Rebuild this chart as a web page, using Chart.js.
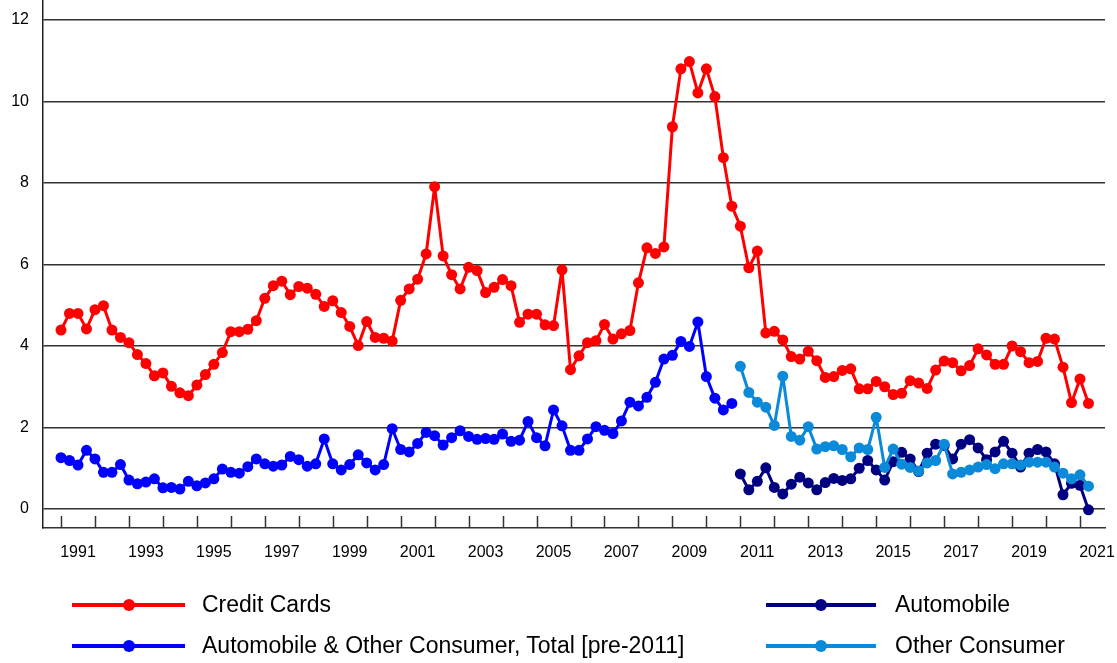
<!DOCTYPE html>
<html><head><meta charset="utf-8">
<script src="https://cdn.jsdelivr.net/npm/chart.js@4.4.1/dist/chart.umd.min.js"></script>
<style>
html,body{margin:0;padding:0;background:#fff;}
#wrap{position:relative;width:1117px;height:663px;overflow:hidden;background:#fff;}
#c{position:absolute;left:0;top:0;}
.leg{position:absolute;font-family:"Liberation Sans",Arial,sans-serif;font-size:23px;color:#000;height:0;}
.leg .ln{position:absolute;height:4px;top:-2px;}
.leg .dot{position:absolute;width:12px;height:12px;border-radius:50%;top:-6px;}
.leg .tx{position:absolute;white-space:nowrap;line-height:23px;top:-12px;}
</style></head>
<body><div id="wrap"><canvas id="c" width="1117" height="663"></canvas><div id="legend"></div></div>
<script>
// ---- data ----
const startYear = 1991;
const xTickLabels = ['1991','1993','1995','1997','1999','2001','2003','2005','2007','2009','2011','2013','2015','2017','2019','2021'];
const yTickValues = [0, 2, 4, 6, 8, 10, 12];
const seriesNames = ['Credit Cards', 'Automobile & Other Consumer, Total [pre-2011]', 'Automobile', 'Other Consumer'];

// quarterly, 1991Q1 - 2021Q2
const creditCards = [4.39,4.80,4.80,4.42,4.89,4.99,4.39,4.21,4.08,3.79,3.57,3.27,3.34,3.01,2.85,2.78,3.04,3.30,3.55,3.84,
  4.35,4.35,4.41,4.62,5.17,5.48,5.59,5.26,5.46,5.42,5.27,4.97,5.11,4.82,4.48,4.01,4.60,4.21,4.19,4.12,
  5.12,5.40,5.64,6.26,7.91,6.21,5.75,5.40,5.93,5.85,5.31,5.44,5.63,5.48,4.58,4.78,4.78,4.52,4.50,5.87,
  3.42,3.76,4.08,4.13,4.53,4.17,4.30,4.38,5.55,6.41,6.27,6.43,9.38,10.80,10.98,10.21,10.80,10.12,8.62,7.43,
  6.94,5.92,6.33,4.32,4.36,4.15,3.74,3.68,3.87,3.64,3.23,3.25,3.40,3.44,2.95,2.95,3.13,3.00,2.81,2.84,
  3.15,3.09,2.96,3.41,3.63,3.59,3.39,3.52,3.93,3.78,3.55,3.55,4.00,3.86,3.59,3.62,4.19,4.17,3.48,2.61,
  3.19,2.59];
// quarterly, 1991Q1 - 2010Q4
const autoOtherPre2011 = [1.26,1.19,1.08,1.44,1.23,0.90,0.90,1.09,0.71,0.62,0.66,0.74,0.52,0.53,0.49,0.68,0.57,0.64,0.74,0.98,
  0.90,0.88,1.04,1.23,1.11,1.05,1.08,1.29,1.21,1.05,1.11,1.72,1.11,0.96,1.09,1.33,1.13,0.96,1.09,1.97,
  1.46,1.40,1.61,1.88,1.80,1.57,1.75,1.92,1.78,1.71,1.73,1.71,1.84,1.66,1.69,2.15,1.75,1.55,2.43,2.04,
  1.44,1.44,1.72,2.02,1.93,1.85,2.16,2.62,2.53,2.74,3.11,3.68,3.77,4.11,3.99,4.59,3.25,2.72,2.43,2.59];
// quarterly, 2011Q1 - 2021Q2
const automobile = [0.86,0.47,0.68,1.01,0.53,0.37,0.61,0.78,0.64,0.47,0.65,0.75,0.70,0.74,1.00,1.19,0.96,0.71,1.16,1.39,
  1.23,0.92,1.37,1.59,1.56,1.23,1.59,1.70,1.50,1.21,1.40,1.66,1.37,1.03,1.37,1.46,1.40,1.11,0.35,0.63,
  0.58,-0.02];
const otherConsumer = [3.50,2.86,2.62,2.50,2.05,3.26,1.78,1.69,2.02,1.47,1.53,1.55,1.46,1.28,1.50,1.46,2.25,1.02,1.47,1.10,
  1.02,0.93,1.13,1.19,1.59,0.86,0.90,0.96,1.03,1.09,0.99,1.11,1.11,1.08,1.15,1.15,1.15,1.03,0.88,0.74,
  0.84,0.56];

const colors = ['#ff0000', '#0000ff', '#000080', '#0a8ad8'];

function toPoints(arr, firstYear) {
  return arr.map((v, i) => ({ x: firstYear + i / 4, y: v }));
}

// ---- chart ----
const yearTicks = {
  id: 'yearTicks',
  afterDraw(chart) {
    const xs = chart.scales.x, ca = chart.chartArea, ctx = chart.ctx;
    ctx.save();
    ctx.strokeStyle = '#333';
    ctx.lineWidth = 1.5;
    for (let y = Math.ceil(xs.min); y <= xs.max; y++) {
      const px = Math.round(xs.getPixelForValue(y)) + 0.5;
      ctx.beginPath();
      ctx.moveTo(px, ca.bottom - 12);
      ctx.lineTo(px, ca.bottom);
      ctx.stroke();
    }
    ctx.restore();
  }
};

function ds(label, data, color, order) {
  return {
    label, data, borderColor: color, backgroundColor: color,
    borderWidth: 3, borderJoinStyle: 'round', borderCapStyle: 'round',
    pointRadius: 5.5, pointHoverRadius: 5.5, pointBorderWidth: 0,
    pointBackgroundColor: color, tension: 0, order
  };
}

new Chart(document.getElementById('c'), {
  type: 'line',
  data: {
    datasets: [
      ds(seriesNames[0], toPoints(creditCards, startYear), colors[0], 0),
      ds(seriesNames[1], toPoints(autoOtherPre2011, startYear), colors[1], 1),
      ds(seriesNames[2], toPoints(automobile, 2011), colors[2], 3),
      ds(seriesNames[3], toPoints(otherConsumer, 2011), colors[3], 2)
    ]
  },
  options: {
    responsive: false,
    animation: false,
    devicePixelRatio: 1,
    layout: { autoPadding: false, padding: { top: 0, left: 0, right: 12, bottom: 0 } },
    plugins: { legend: { display: false }, tooltip: { enabled: false } },
    scales: {
      x: {
        type: 'linear',
        min: 1990.47, max: 2021.736,
        grid: { display: true, drawOnChartArea: false, drawTicks: false, color: 'rgba(0,0,0,0)' },
        border: { display: true, color: '#333', width: 1.5 },
        afterBuildTicks(s) { s.ticks = xTickLabels.map(l => ({ value: Number(l) + 0.5 })); },
        ticks: {
          autoSkip: false, maxRotation: 0, padding: 15,
          color: '#000', font: { family: '"Liberation Sans", Arial, sans-serif', size: 16 },
          callback: (v) => String(Math.floor(v))
        },
        afterFit(s) { s.height = 663 - 528; s.paddingLeft = 0; s.paddingRight = 0; }
      },
      y: {
        min: -0.466, max: 12.49,
        afterBuildTicks(s) { s.ticks = yTickValues.map(v => ({ value: v })); },
        grid: { color: '#333', lineWidth: 1.5, drawTicks: false },
        border: { display: true, color: '#222', width: 1.5 },
        ticks: {
          padding: 14, color: '#000',
          font: { family: '"Liberation Sans", Arial, sans-serif', size: 16 },
          callback: (v) => String(v)
        },
        afterFit(s) { s.width = 43; s.paddingTop = 0; s.paddingBottom = 0; }
      }
    }
  },
  plugins: [yearTicks]
});

// ---- legend (HTML text) ----
const legendLayout = [
  { idx: 0, x: 72, y: 605, w: 113, tx: 202 },
  { idx: 1, x: 72, y: 646, w: 113, tx: 202 },
  { idx: 2, x: 766, y: 605, w: 110, tx: 895 },
  { idx: 3, x: 766, y: 646, w: 110, tx: 895 }
];
const legendEl = document.getElementById('legend');
legendLayout.forEach(L => {
  const d = document.createElement('div');
  d.className = 'leg';
  d.style.left = '0px'; d.style.top = L.y + 'px';
  const ln = document.createElement('div'); ln.className = 'ln';
  ln.style.left = L.x + 'px'; ln.style.width = L.w + 'px'; ln.style.background = colors[L.idx];
  const dot = document.createElement('div'); dot.className = 'dot';
  dot.style.left = (L.x + L.w / 2 - 6) + 'px'; dot.style.background = colors[L.idx];
  const tx = document.createElement('div'); tx.className = 'tx';
  tx.style.left = L.tx + 'px'; tx.textContent = seriesNames[L.idx];
  d.appendChild(ln); d.appendChild(dot); d.appendChild(tx);
  legendEl.appendChild(d);
});
</script>
</body></html>
